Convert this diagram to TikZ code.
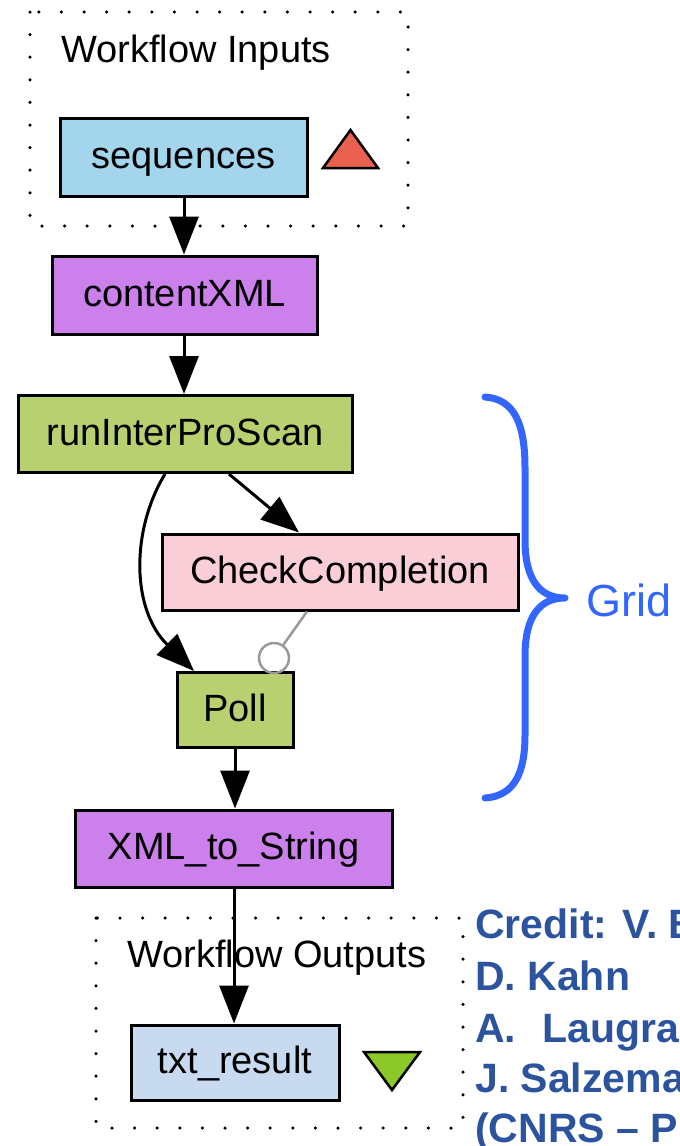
\documentclass[tikz,border=0pt]{standalone}
\usepackage{fontspec}
\setmainfont{Liberation Sans}
\usetikzlibrary{arrows.meta}
\definecolor{inblue}{HTML}{A3D6EC}
\definecolor{outblue}{HTML}{C8DAF0}
\definecolor{purp}{HTML}{CC80EC}
\definecolor{grn}{HTML}{B9D070}
\definecolor{pink}{HTML}{F9CED6}
\definecolor{redtri}{HTML}{EA6150}
\definecolor{grntri}{HTML}{8CC828}
\definecolor{gridblue}{HTML}{3366FF}
\definecolor{credit}{HTML}{2C549E}
\tikzset{
  box/.style={draw, line width=3pt, inner sep=0pt, text height=27pt, text depth=5pt, font=\fontsize{38}{44}\selectfont},
  dotbox/.style={draw, line width=3.5pt, dash pattern=on 0pt off 22.6pt, line cap=round},
  edge/.style={line width=3pt, -{Triangle[length=38pt,width=29pt]}},
  lbl/.style={inner sep=0pt, anchor=base west, font=\fontsize{38}{44}\selectfont},
  cred/.style={inner sep=0pt, anchor=base west, text=credit, font=\fontsize{41}{48}\selectfont\bfseries}
}
\begin{document}
\begin{tikzpicture}[x=1pt,y=-1pt]
\useasboundingbox (0,0) rectangle (680,1146);
\clip (0,0) rectangle (680,1146);
% dotted groups
\draw[dotbox] (30,12) rectangle (408,226);
\draw[dotbox] (96,918) rectangle (463,1128);
\node[lbl] (inlbl) at (61,62) {Workflow Inputs};
\node[lbl] (outlbl) at (127,967) {Workflow Outputs};
% nodes
\node[box, fill=inblue, minimum width=247pt, minimum height=78pt] (seq) at (183.5,157) {sequences};
\node[box, fill=purp, minimum width=265pt, minimum height=78pt] (content) at (184.5,295) {contentXML};
\node[box, fill=grn, minimum width=334pt, minimum height=77pt] (run) at (185,434) {runInterProScan};
\node[box, fill=pink, minimum width=356pt, minimum height=76pt] (check) at (340,572) {CheckCompletion};
\node[box, fill=grn, minimum width=116pt, minimum height=75pt] (poll) at (235,710) {Poll};
\node[box, fill=purp, minimum width=317pt, minimum height=77pt] (xml) at (233.5,848.5) {XML\_to\_String};
\node[box, fill=outblue, minimum width=208pt, minimum height=75pt] (txt) at (235,1062.5) {txt\_result};
% triangles
\draw[line width=2.5pt, fill=redtri, line join=miter] (323,168) -- (378,168) -- (350.5,130) -- cycle;
\draw[line width=2.5pt, fill=grntri, line join=miter] (364,1052) -- (420,1052) -- (392,1090) -- cycle;
% edges
\draw[edge] ([xshift=0.5pt]seq.south) -- ([xshift=0.5pt]seq.south |- content.north);
\draw[edge] ([xshift=-0.5pt]content.south) -- ([xshift=-0.5pt]content.south |- run.north);
\draw[edge] ([xshift=44pt]run.south) -- ([xshift=-41pt]check.north);
\draw[edge] ([xshift=-20pt]run.south) .. controls (131,530) and (131,609) .. ([xshift=-41pt]poll.north);
\draw[edge] (poll.south) -- (poll.south |- xml.north);
\draw[edge] ([xshift=0.5pt]xml.south) -- ([xshift=0.5pt]xml.south |- txt.north);
% control link
\node[draw=gray!80, line width=2.5pt, circle, minimum size=30pt, inner sep=0pt] (ctl) at (274,658) {};
\draw[gray!80, line width=2.5pt] ([xshift=-33pt]check.south) -- (ctl);
% brace
\draw[gridblue, line width=7pt, line cap=round, line join=round]
  (485,397) .. controls (515,399) and (525,425) .. (525,468) -- (525,540)
  .. controls (525,580) and (540,598) .. (565,598)
  .. controls (540,598) and (525,616) .. (525,656) -- (525,735)
  .. controls (525,772) and (515,796) .. (485,798);
\node[inner sep=0pt, anchor=west, text=gridblue, font=\fontsize{45}{52}\selectfont] (grid) at (586,600) {Grid};
% credit
\node[cred] (c1) at (475,938) {Credit: V. B};
\node[cred] (c2) at (475,990) {D. Kahn};
\node[cred] (c3) at (475,1042) {A.\hspace{26pt}Laugra};
\node[cred] (c4) at (475,1092) {J. Salzema};
\node[cred] (c5) at (475,1142) {(CNRS – P};
\end{tikzpicture}
\end{document}
